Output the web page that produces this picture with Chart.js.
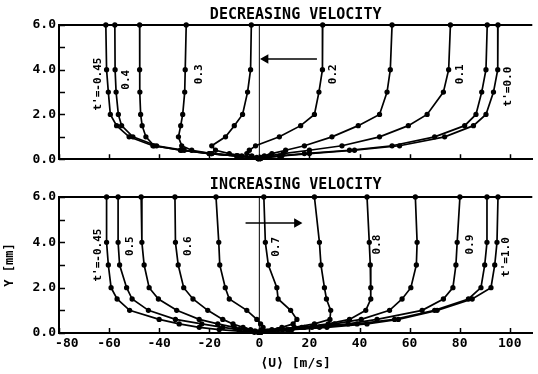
<!DOCTYPE html>
<html>
<head>
<meta charset="utf-8">
<script src="https://cdn.jsdelivr.net/npm/chart.js@4"></script>
<style>
  html, body { margin: 0; padding: 0; background: #fff; }
  #wrap { position: relative; width: 538px; height: 374px; }
  .panel { position: absolute; left: 0; }
</style>
</head>
<body>
<div id="wrap">
  <canvas id="decChart" class="panel" style="top:0" width="538" height="170"></canvas>
  <canvas id="incChart" class="panel" style="top:170px" width="538" height="204"></canvas>
</div>
<script>
// wall distance of the measuring stations, mm
const Y_LEVELS = [6, 4, 3, 2, 1.5, 1.0, 0.6, 0.4, 0.25, 0.15, 0.08, 0.03];
const X_TICKS = [-80, -60, -40, -20, 0, 20, 40, 60, 80, 100];
const Y_TICKS = [0, 1, 2, 3, 4, 5, 6];

// decreasing velocity phase, <U> in m/s at each Y level
const dec045 = [-61.3, -61.0, -60.3, -59.5, -57.0, -52.0, -42.5, -31.0, -20.0, -9.0, -3.0, -0.5];
const dec040 = [-57.7, -57.6, -57.2, -56.3, -55.0, -50.5, -41.0, -30.0, -19.0, -8.5, -3.0, -0.5];
const dec035 = [-47.8, -47.8, -47.7, -47.4, -46.8, -45.3, -42.0, -31.5, -20.0, -9.0, -3.0, -0.5];
const dec030 = [-29.2, -29.6, -29.8, -30.6, -31.4, -32.3, -31.0, -27.0, -19.0, -9.0, -3.0, -0.5];
const dec025 = [-3.2, -3.5, -4.7, -6.7, -10.0, -13.5, -19.0, -17.5, -12.0, -7.0, -3.0, -0.5];
const dec020 = [25.3, 25.2, 23.8, 22.0, 16.5, 8.0, -1.5, -4.0, -5.0, -3.0, -1.0, 0.0];
const dec015 = [53.0, 52.3, 51.0, 48.0, 39.5, 29.0, 18.0, 10.5, 5.0, 2.0, 0.7, 0.2];
const dec010 = [76.3, 75.6, 73.5, 67.0, 59.5, 48.0, 33.0, 20.0, 9.5, 4.0, 1.5, 0.3];
const dec005 = [91.0, 90.5, 88.8, 86.5, 82.0, 70.0, 53.0, 36.0, 18.0, 8.0, 3.0, 0.5];
const dec000 = [95.3, 95.2, 93.5, 90.5, 85.5, 74.0, 56.0, 38.0, 20.0, 9.0, 3.5, 0.5];

// increasing velocity phase
const inc045 = [-61.0, -61.0, -60.3, -59.2, -56.8, -51.8, -40.0, -32.0, -24.0, -16.0, -8.0, -2.0];
const inc050 = [-56.4, -56.4, -55.8, -53.0, -50.8, -44.3, -33.5, -23.0, -14.6, -8.0, -3.0, -0.5];
const inc055 = [-47.2, -46.9, -46.0, -44.0, -40.3, -33.0, -24.0, -16.6, -10.0, -5.5, -2.0, -0.3];
const inc060 = [-33.7, -33.5, -32.4, -30.2, -26.5, -20.6, -14.6, -10.5, -6.5, -3.5, -1.5, -0.2];
const inc065 = [-17.3, -16.2, -15.8, -13.6, -12.0, -5.0, -1.0, 0.5, 1.5, 1.0, 0.5, 0.0];
const inc070 = [1.8, 2.4, 3.6, 7.0, 7.5, 12.5, 15.0, 13.5, 9.0, 5.0, 2.0, 0.5];
const inc075 = [22.0, 24.0, 24.6, 26.0, 26.8, 28.5, 28.2, 22.0, 14.0, 7.5, 3.0, 0.5];
const inc080 = [43.0, 43.9, 44.3, 44.5, 44.5, 42.5, 36.0, 27.5, 17.0, 9.0, 3.5, 0.5];
const inc085 = [62.3, 63.0, 62.7, 60.5, 57.0, 52.0, 40.7, 30.0, 18.0, 9.5, 4.0, 0.5];
const inc090 = [80.1, 79.0, 78.5, 77.3, 73.5, 65.0, 47.0, 35.5, 21.0, 11.0, 4.5, 0.5];
const inc095 = [90.9, 90.9, 90.0, 88.5, 83.5, 70.0, 54.0, 39.0, 24.0, 12.0, 5.0, 0.5];
const inc100 = [95.3, 94.9, 94.0, 92.5, 85.0, 71.0, 55.5, 43.0, 27.0, 13.0, 5.5, 0.5];

// curve labels (text, position in data units)
const decLabelText = ["t'=-0.45", '0.4', '0.3', '0.2', '0.1', "t'=0.0"];
const decLabelX = [-64.4, -53.0, -24.1, 29.6, 80.2, 99.2];
const decLabelY = [3.36, 3.55, 3.8, 3.8, 3.8, 3.25];
const incLabelText = ["t'=-0.45", '0.5', '0.6', '0.7', '0.8', '0.9', "t'=1.0"];
const incLabelX = [-64.4, -51.4, -28.5, 6.7, 47.0, 84.2, 98.4];
const incLabelY = [3.44, 3.83, 3.83, 3.8, 3.9, 3.9, 3.35];

// direction arrows: [x start, x end], y
const decArrowX = [23.0, 2.5];
const decArrowY = 4.48;
const incArrowX = [-5.5, 15.0];
const incArrowY = 4.85;

const FONT = "'DejaVu Sans Mono', monospace";
Chart.defaults.font.family = FONT;
Chart.defaults.color = '#000';

function profile(values) {
    return {
        data: values.map((v, i) => ({ x: v, y: Y_LEVELS[i] })),
        borderColor: '#000',
        backgroundColor: '#000',
        borderWidth: 1.7,
        pointRadius: 1.8,
        pointStyle: 'circle',
        showLine: true,
        tension: 0,
        clip: false
    };
}

function zeroLine() {
    return {
        data: [{ x: 0, y: 0 }, { x: 0, y: 6 }],
        borderColor: '#000',
        borderWidth: 1,
        pointRadius: 0,
        showLine: true
    };
}

function arrow(xs, y) {
    const dir = xs[1] > xs[0] ? 90 : -90;
    return {
        data: xs.map(x => ({ x: x, y: y })),
        borderColor: '#000',
        backgroundColor: '#000',
        borderWidth: 1.5,
        showLine: true,
        pointStyle: 'triangle',
        pointRotation: dir,
        pointRadius: [0, 4]
    };
}

// inward tick marks plus the top frame line
const frameTicks = {
    id: 'frameTicks',
    afterDatasetsDraw(chart) {
        const { ctx, chartArea: a, scales: { x, y } } = chart;
        ctx.save();
        ctx.strokeStyle = '#000';
        ctx.lineWidth = 2;
        ctx.beginPath();
        ctx.moveTo(a.left, a.top);
        ctx.lineTo(a.right, a.top);
        ctx.stroke();
        ctx.lineWidth = 1.5;
        ctx.beginPath();
        X_TICKS.forEach(v => {
            const px = Math.round(x.getPixelForValue(v)) + 0.5;
            ctx.moveTo(px, a.bottom);
            ctx.lineTo(px, a.bottom - 5);
        });
        Y_TICKS.forEach(v => {
            const py = Math.round(y.getPixelForValue(v)) + 0.5;
            ctx.moveTo(a.left, py);
            ctx.lineTo(a.left + 6, py);
        });
        ctx.stroke();
        ctx.restore();
    }
};

// rotated t' labels next to the profiles
const curveLabels = {
    id: 'curveLabels',
    afterDatasetsDraw(chart, args, opts) {
        const { ctx, scales: { x, y } } = chart;
        ctx.save();
        ctx.fillStyle = '#000';
        ctx.font = 'bold 11px ' + FONT;
        ctx.textAlign = 'center';
        ctx.textBaseline = 'middle';
        opts.text.forEach((t, i) => {
            ctx.save();
            ctx.translate(x.getPixelForValue(opts.x[i]), y.getPixelForValue(opts.y[i]));
            ctx.rotate(-Math.PI / 2);
            ctx.fillText(t, 0, 0);
            ctx.restore();
        });
        ctx.restore();
    }
};

function makeOptions(title, titlePad, showX, labels) {
    return {
        responsive: false,
        animation: false,
        layout: { padding: 0 },
        plugins: {
            legend: { display: false },
            tooltip: { enabled: false },
            title: {
                display: true,
                text: title,
                fullSize: false,
                font: { size: 15, weight: 'bold' },
                color: '#000',
                padding: titlePad
            },
            curveLabels: labels
        },
        scales: {
            x: {
                type: 'linear',
                min: -80,
                max: 109,
                afterBuildTicks: s => { s.ticks = X_TICKS.map(v => ({ value: v })); },
                afterFit: s => { s.height = showX ? 41 : 8; },
                grid: { display: false, drawTicks: false },
                border: { display: true, color: '#000', width: 2 },
                ticks: {
                    display: showX,
                    padding: 3,
                    maxRotation: 0,
                    font: { size: 13, weight: 'bold' },
                    // first label nudged right so it clears the 0.0 label
                    callback: v => (v === X_TICKS[0] ? '  ' + v : String(v))
                },
                title: {
                    display: showX,
                    text: '⟨U⟩ [m/s]',
                    font: { size: 13, weight: 'bold' },
                    padding: { top: 0, bottom: 3 }
                }
            },
            y: {
                type: 'linear',
                min: 0,
                max: 6,
                afterBuildTicks: s => { s.ticks = Y_TICKS.map(v => ({ value: v })); },
                afterFit: s => { s.width = 59; },
                grid: { display: false, drawTicks: false },
                border: { display: true, color: '#000', width: 2 },
                ticks: {
                    padding: 3,
                    font: { size: 13, weight: 'bold' },
                    callback: v => (v % 2 === 0 ? v.toFixed(1) : '')
                },
                title: {
                    display: showX,
                    text: 'Y [mm]',
                    font: { size: 12, weight: 'bold' },
                    padding: { top: 3, bottom: 0 }
                }
            }
        }
    };
}

const decSeries = [dec045, dec040, dec035, dec030, dec025, dec020, dec015, dec010, dec005, dec000];
const incSeries = [inc045, inc050, inc055, inc060, inc065, inc070, inc075, inc080, inc085, inc090, inc095, inc100];

new Chart(document.getElementById('decChart'), {
    type: 'scatter',
    data: { datasets: [zeroLine(), arrow(decArrowX, decArrowY)].concat(decSeries.map(profile)) },
    options: makeOptions('DECREASING VELOCITY', { top: 6, bottom: 1 }, false,
        { text: decLabelText, x: decLabelX, y: decLabelY }),
    plugins: [frameTicks, curveLabels]
});

new Chart(document.getElementById('incChart'), {
    type: 'scatter',
    data: { datasets: [zeroLine(), arrow(incArrowX, incArrowY)].concat(incSeries.map(profile)) },
    options: makeOptions('INCREASING VELOCITY', { top: 6, bottom: 3 }, true,
        { text: incLabelText, x: incLabelX, y: incLabelY }),
    plugins: [frameTicks, curveLabels]
});
</script>
</body>
</html>
